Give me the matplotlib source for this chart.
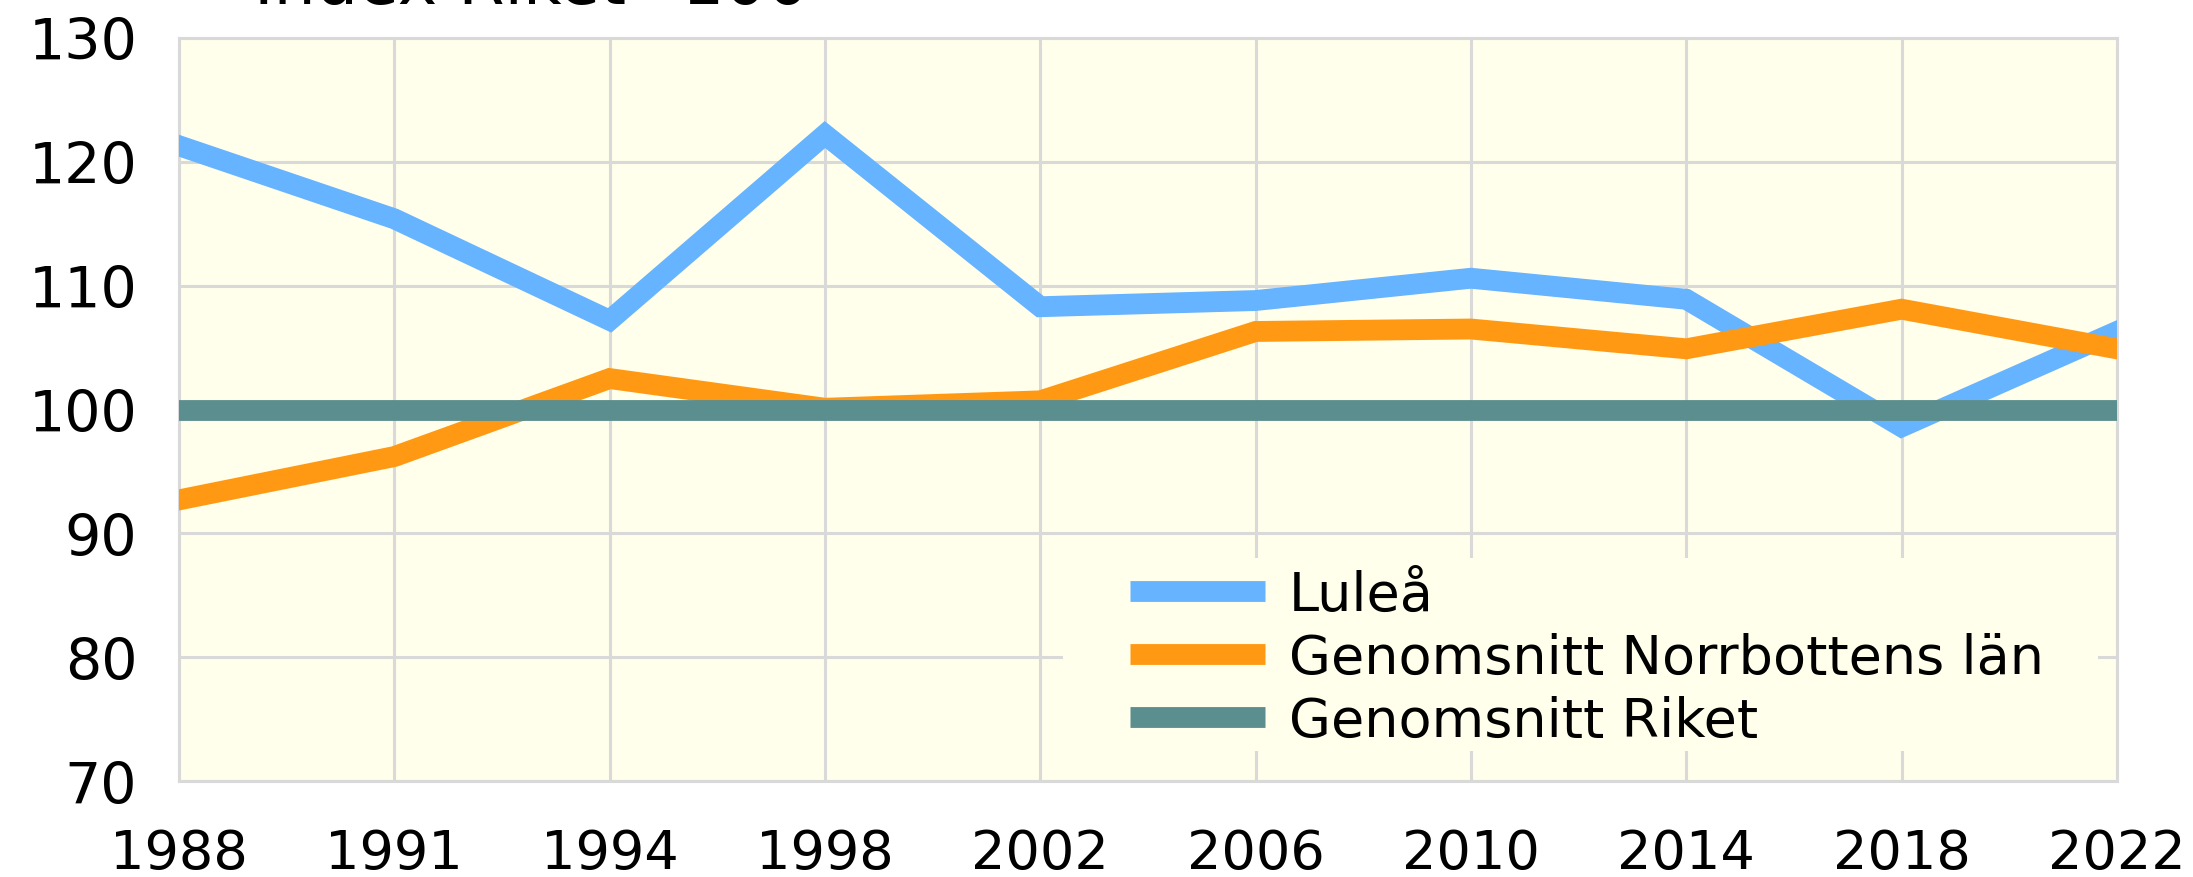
# Luleå jämfört med Norrbotten och riket, index riket = 100
import matplotlib.pyplot as plt
from matplotlib.patches import Rectangle

# data
years = ['1988', '1991', '1994', '1998', '2002', '2006', '2010', '2014', '2018', '2022']
lulea = [121.3, 115.4, 107.2, 122.2, 108.3, 108.8, 110.6, 108.9, 98.6, 106.3]
norrbotten = [92.7, 96.2, 102.5, 100.1, 100.7, 106.3, 106.5, 104.9, 108.1, 104.9]
riket = [100, 100, 100, 100, 100, 100, 100, 100, 100, 100]
yticks = [70, 80, 90, 100, 110, 120, 130]

plt.rcParams['font.family'] = ['DejaVu Sans']
fs = 39
bg = '#FFFFEB'

fig = plt.figure(figsize=(21.93, 8.78), dpi=100)
ax = fig.add_axes([0.0816, 0.1093, 0.8837, 0.8463])
ax.set_facecolor(bg)

x = list(range(len(years)))
ax.plot(x, lulea, color='#66B3FF', lw=15, label='Luleå', solid_joinstyle='miter', zorder=3)
ax.plot(x, norrbotten, color='#FF9914', lw=15, label='Genomsnitt Norrbottens län',
        solid_joinstyle='miter', zorder=3)
ax.plot(x, riket, color='#5B8E8E', lw=15, label='Genomsnitt Riket', zorder=3)

ax.set_xlim(0, len(years) - 1)
ax.set_ylim(70, 130)
ax.set_xticks(x)
ax.set_xticklabels(years)
ax.set_yticks(yticks)
ax.tick_params(length=0, labelsize=fs)
ax.tick_params(axis='y', pad=30, labelsize=41)
ax.tick_params(axis='x', pad=33)

# rutnät
ax.grid(True, color='#D9D9D9', lw=2.2, zorder=0)
ax.set_axisbelow(True)
for s in ax.spines.values():
    s.set_color('#D9D9D9')
    s.set_linewidth(2.2)

# legendens bakgrund döljer rutnätet
ax.add_patch(Rectangle((0.456, 0.041), 0.534, 0.259, transform=ax.transAxes,
                       facecolor=bg, edgecolor='none', zorder=1))
leg = ax.legend(loc='center left', bbox_to_anchor=(0.4906, 0.166), fontsize=fs,
                frameon=False, handlelength=2.5, handletextpad=0.44,
                labelspacing=0.2, borderaxespad=0, borderpad=0)
for h in leg.get_lines():
    h.set_linewidth(15)
    h.set_solid_capstyle('butt')

# titeln är avklippt i originalet
fig.text(0.116, 0.996, 'Index Riket=100', fontsize=48, va='baseline', ha='left')

fig.savefig('out.png', dpi=100)
